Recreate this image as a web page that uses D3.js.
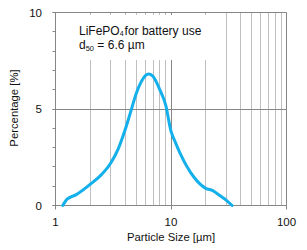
<!DOCTYPE html>
<html>
<head>
<meta charset="utf-8">
<script src="https://cdn.jsdelivr.net/npm/d3@7"></script>
<style>
  html, body { margin: 0; padding: 0; background: #fff; }
  svg { display: block; font-family: Arial, "Liberation Sans", sans-serif; }
</style>
</head>
<body>
<svg id="chart" width="307" height="250"></svg>
<script>
// Data
const particleSize = [1.157, 1.26, 1.5, 2, 2.5, 3, 3.5, 4, 4.5, 5, 5.5, 6, 6.42, 7, 8, 9, 10, 11, 12, 15.7, 20, 23, 26.8, 30, 33.8];
const percentage   = [0, 0.33, 0.55, 1.1, 1.6, 2.19, 2.95, 3.91, 4.9, 5.8, 6.39, 6.73, 6.81, 6.68, 6.0, 5.2, 3.85, 3.22, 2.7, 1.49, 0.89, 0.77, 0.49, 0.28, 0];
const xTickValues = [1, 10, 100];
const xTickLabels = ["1", "10", "100"];
const yTickValues = [0, 5, 10];
const yTickLabels = ["0", "5", "10"];
const xTitle = "Particle Size [µm]";
const yTitle = "Percentage [%]";

const svg = d3.select("#chart");
const pLeft = 55.5, pRight = 286.5, pTop = 12.5, pBottom = 205.5;
const x = d3.scaleLog().domain([1, 100]).range([pLeft, pRight]);
const y = d3.scaleLinear().domain([0, 10]).range([pBottom, pTop]);

const major = "#868686", minor = "#bfbfbf";
const sx = d => Math.round(x(d) - 0.5) + 0.5;
const sy = d => Math.round(y(d) - 0.5) + 0.5;

// vertical gridlines (log minor)
const minorX = [];
for (let dec = 1; dec < 100; dec *= 10) for (let k = 2; k <= 9; k++) minorX.push(dec * k);
svg.append("g").selectAll("line").data(minorX).join("line")
  .attr("x1", sx).attr("x2", sx)
  .attr("y1", pTop).attr("y2", pBottom)
  .attr("stroke", minor).attr("stroke-width", 1);
svg.append("g").selectAll("line").data(xTickValues).join("line")
  .attr("x1", sx).attr("x2", sx)
  .attr("y1", pTop).attr("y2", pBottom + 4)
  .attr("stroke", major).attr("stroke-width", 1);

// horizontal major gridlines
svg.append("g").selectAll("line").data(yTickValues).join("line")
  .attr("x1", pLeft - 3).attr("x2", pRight)
  .attr("y1", sy).attr("y2", sy)
  .attr("stroke", major).attr("stroke-width", 1);

// y minor ticks
svg.append("g").selectAll("line").data(d3.range(0, 11)).join("line")
  .attr("x1", pLeft - 3).attr("x2", pLeft)
  .attr("y1", sy).attr("y2", sy)
  .attr("stroke", major).attr("stroke-width", 1);

// annotation box (white background masking gridlines)
svg.append("rect").attr("x", 75).attr("y", 15).attr("width", 133).attr("height", 45).attr("fill", "#fff");

// curve
const line = d3.line()
  .x((d, i) => x(particleSize[i]))
  .y((d, i) => y(percentage[i]))
  .curve(d3.curveMonotoneX);
svg.append("path").datum(percentage)
  .attr("d", line)
  .attr("fill", "none")
  .attr("stroke", "#14b0ec")
  .attr("stroke-width", 3)
  .attr("stroke-linecap", "round")
  .attr("stroke-linejoin", "round");

// tick labels
svg.append("g").selectAll("text").data(yTickValues).join("text")
  .attr("x", 42).attr("y", d => y(d)).attr("dy", "0.36em")
  .attr("text-anchor", "end").attr("font-size", "11.5px").attr("fill", "#111")
  .text((d, i) => yTickLabels[i]);
svg.append("g").selectAll("text").data(xTickValues).join("text")
  .attr("x", d => x(d)).attr("y", 226)
  .attr("text-anchor", "middle").attr("font-size", "11.5px").attr("fill", "#111")
  .text((d, i) => xTickLabels[i]);

// axis titles
svg.append("text").attr("x", (pLeft + pRight) / 2).attr("y", 241)
  .attr("text-anchor", "middle").attr("font-size", "11.3px").attr("fill", "#111")
  .text(xTitle);
svg.append("text").attr("transform", "translate(17.5,108) rotate(-90)")
  .attr("text-anchor", "middle").attr("font-size", "11.3px").attr("fill", "#111")
  .text(yTitle);

// annotation text (one text element, two lines)
const t1 = svg.append("text").attr("x", 79).attr("y", 34.5).attr("font-size", "12px").attr("fill", "#111");
t1.append("tspan").text("LiFePO");
t1.append("tspan").attr("font-size", "7px").attr("dy", 1.5).text("4");
t1.append("tspan").attr("dy", -1.5).attr("dx", 1).text("for battery use");
t1.append("tspan").attr("x", 79).attr("dy", 14).text("d");
t1.append("tspan").attr("font-size", "7.5px").attr("dy", 2).text("50");
t1.append("tspan").attr("dy", -2).text(" = 6.6 µm");
</script>
</body>
</html>
